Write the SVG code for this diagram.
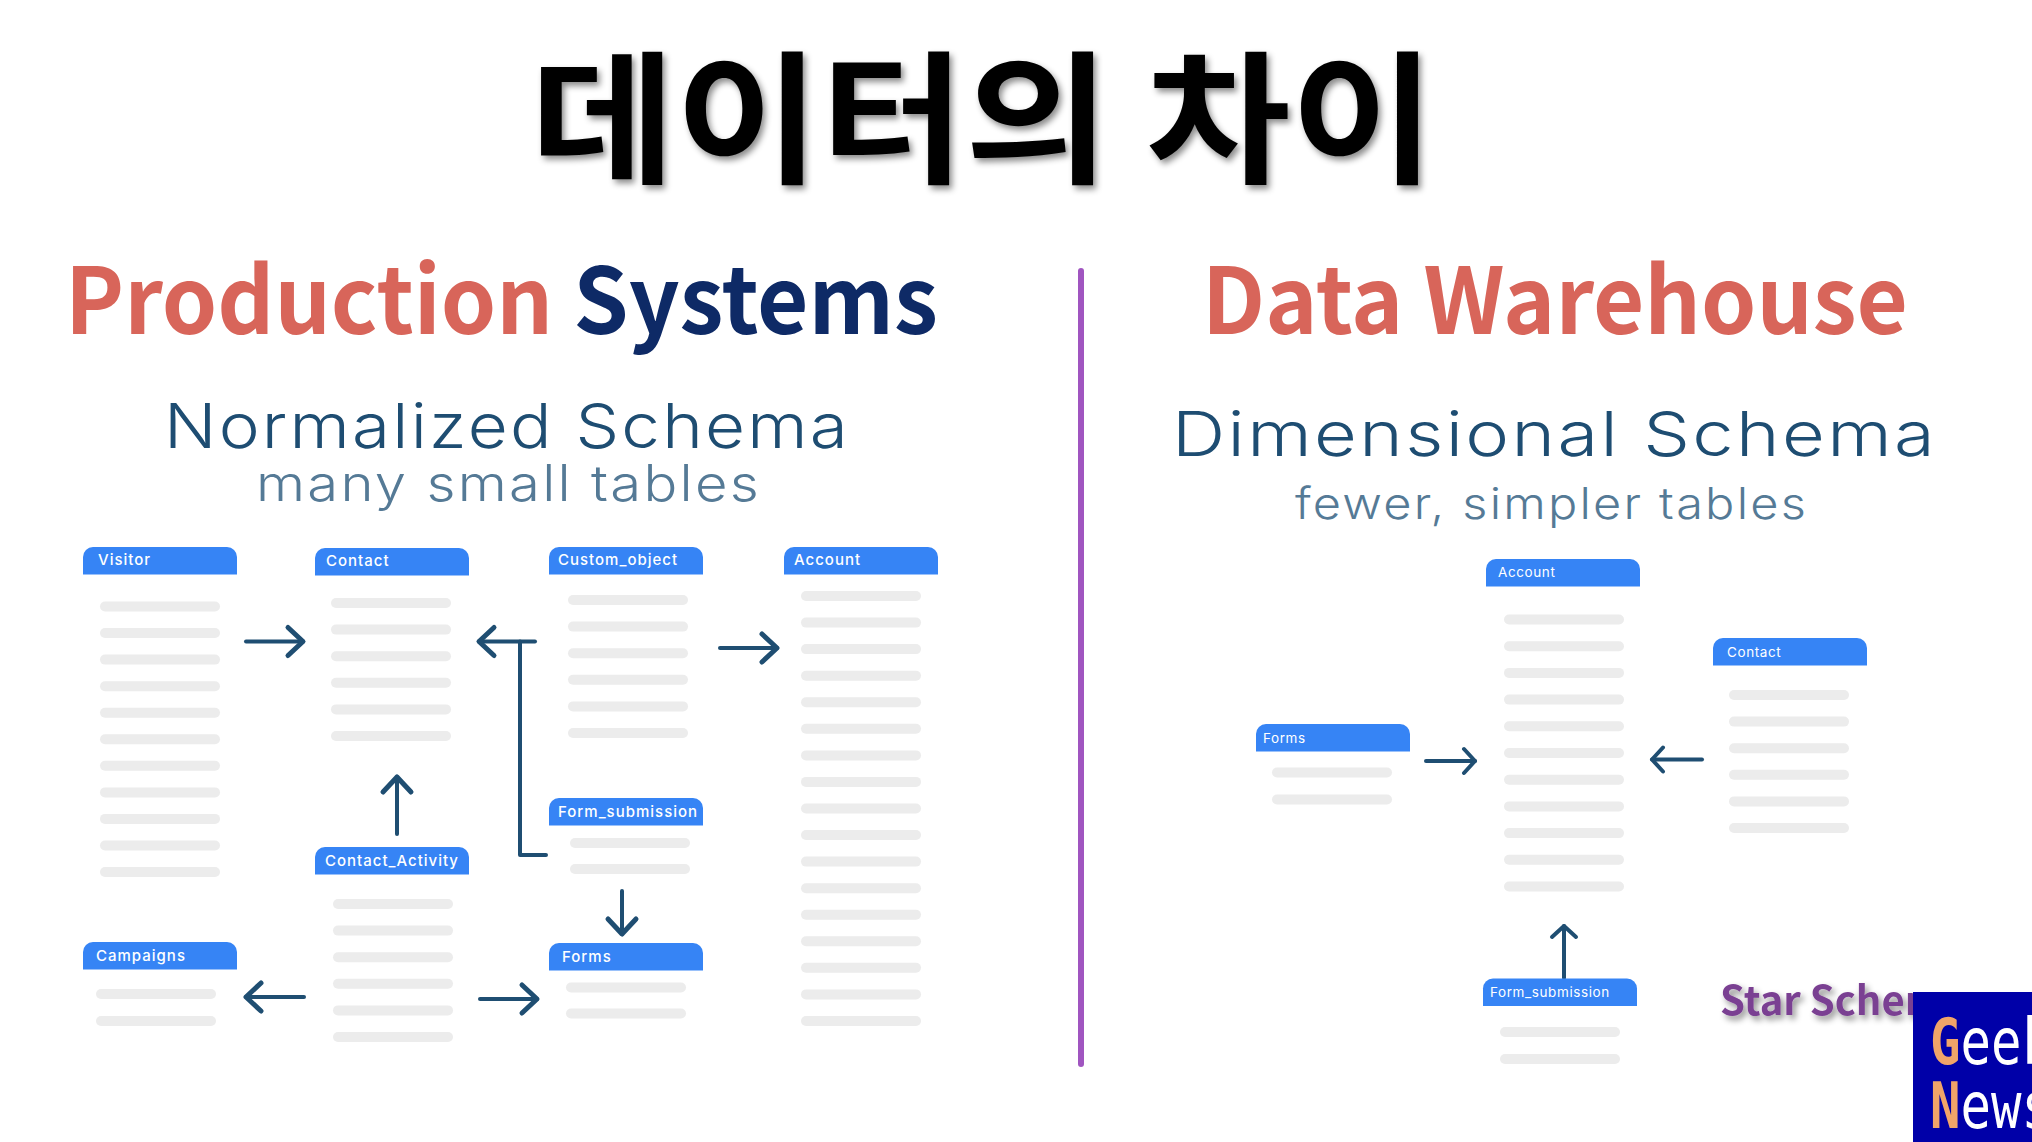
<svg xmlns="http://www.w3.org/2000/svg" width="2032" height="1142" viewBox="0 0 2032 1142">
<style>
text{font-family:"Noto Sans CJK KR","Noto Sans",sans-serif}
.title{font-size:143px;font-weight:700;fill:#000}
.head{font-size:92px;font-weight:700}
.red{fill:#d8655a}.navy{fill:#0e2a66}
.sub{font-family:Inter,Lato,sans-serif;font-weight:300;fill:#1e4d72;letter-spacing:2px}
.sub2{font-family:Inter,Lato,sans-serif;font-weight:300;fill:#557a96;letter-spacing:2px}
.lbl{font-family:Inter,Lato,sans-serif;font-size:15px;font-weight:500;letter-spacing:1px;fill:#fff}
.lbl2{font-family:Inter,Lato,sans-serif;font-size:13.5px;font-weight:400;letter-spacing:.6px;fill:#fff}
.hd{fill:#3684f5}
.b{fill:#ececec}
.a{fill:none;stroke:#1f4e72;stroke-width:4;stroke-linecap:round;stroke-linejoin:round}
.g{font-family:"DejaVu Sans Mono",monospace;font-size:64px}
</style>
<defs>
<filter id="sh" x="-5%" y="-10%" width="110%" height="125%"><feDropShadow dx="3" dy="4" stdDeviation="3" flood-color="#000" flood-opacity=".45"/></filter>
<clipPath id="starclip"><rect x="1700" y="960" width="213" height="90"/></clipPath>
<marker id="ah" markerUnits="userSpaceOnUse" markerWidth="40" markerHeight="40" refX="20" refY="20" orient="auto"><path d="M5 6 L20 20 L5 34" fill="none" stroke="#1f4e72" stroke-width="5" stroke-linecap="round" stroke-linejoin="round"/></marker>
<marker id="as" markerUnits="userSpaceOnUse" markerWidth="32" markerHeight="32" refX="16" refY="16" orient="auto"><path d="M5 4 L16 16 L5 28" fill="none" stroke="#1f4e72" stroke-width="4" stroke-linecap="round" stroke-linejoin="round"/></marker>
<path id="hdr" class="hd" d="M0 27.500V10a10 10 0 0 1 10-10H144a10 10 0 0 1 10 10V27.500Z"/>
<rect id="bar" class="b" width="120" height="10" rx="5"/>
</defs>
<rect width="2032" height="1142" fill="#fff"/>
<text class="title" x="983" y="172" text-anchor="middle" filter="url(#sh)" textLength="905" lengthAdjust="spacingAndGlyphs">데이터의 차이</text>
<text class="head" x="65" y="334" textLength="873" lengthAdjust="spacingAndGlyphs"><tspan class="red">Production</tspan> <tspan class="navy">Systems</tspan></text>
<text class="head red" x="1202" y="334" textLength="706" lengthAdjust="spacingAndGlyphs">Data Warehouse</text>
<text class="sub" x="164" y="448" font-size="62" textLength="686" lengthAdjust="spacingAndGlyphs">Normalized Schema</text>
<text class="sub2" x="256" y="501" font-size="50" textLength="505" lengthAdjust="spacingAndGlyphs">many small tables</text>
<text class="sub" x="1172" y="456" font-size="62" textLength="765" lengthAdjust="spacingAndGlyphs">Dimensional Schema</text>
<text class="sub2" x="1295" y="519" font-size="44" textLength="513" lengthAdjust="spacingAndGlyphs">fewer, simpler tables</text>
<rect x="1078" y="268" width="6" height="799" rx="3" fill="#a055c0"/>

<g id="connectors">
<path class="a" marker-end="url(#ah)" d="M246 641.500H303"/>
<path class="a" marker-end="url(#ah)" d="M535 641.500H479"/>
<path class="a" d="M520 641.500V855H546"/>
<path class="a" marker-end="url(#ah)" d="M397 834V777"/>
<path class="a" marker-end="url(#ah)" d="M720 648H777"/>
<path class="a" marker-end="url(#ah)" d="M622 891V934"/>
<path class="a" marker-end="url(#ah)" d="M304 997H246"/>
<path class="a" marker-end="url(#ah)" d="M480 999H537"/>
<path class="a" marker-end="url(#as)" d="M1426 761H1475"/>
<path class="a" marker-end="url(#as)" d="M1702 759.500H1652"/>
<path class="a" marker-end="url(#as)" d="M1564 978V926"/>
</g>

<g id="visitor"><use href="#hdr" x="83" y="547"/><text class="lbl" x="98" y="565">Visitor</text>
<use href="#bar" x="100" y="601.500"/><use href="#bar" x="100" y="628"/><use href="#bar" x="100" y="654.600"/><use href="#bar" x="100" y="681.200"/><use href="#bar" x="100" y="707.700"/><use href="#bar" x="100" y="734.300"/><use href="#bar" x="100" y="760.800"/><use href="#bar" x="100" y="787.400"/><use href="#bar" x="100" y="813.900"/><use href="#bar" x="100" y="840.500"/><use href="#bar" x="100" y="867"/></g>
<g id="contact"><use href="#hdr" x="315" y="548"/><text class="lbl" x="326" y="566">Contact</text>
<use href="#bar" x="331" y="598"/><use href="#bar" x="331" y="624.600"/><use href="#bar" x="331" y="651.200"/><use href="#bar" x="331" y="677.800"/><use href="#bar" x="331" y="704.400"/><use href="#bar" x="331" y="731"/></g>
<g id="custom_object"><use href="#hdr" x="549" y="547"/><text class="lbl" x="558" y="565">Custom_object</text>
<use href="#bar" x="568" y="595"/><use href="#bar" x="568" y="621.600"/><use href="#bar" x="568" y="648.200"/><use href="#bar" x="568" y="674.800"/><use href="#bar" x="568" y="701.400"/><use href="#bar" x="568" y="728"/></g>
<g id="account"><use href="#hdr" x="784" y="547"/><text class="lbl" x="794" y="565">Account</text>
<use href="#bar" x="801" y="591"/><use href="#bar" x="801" y="617.600"/><use href="#bar" x="801" y="644.100"/><use href="#bar" x="801" y="670.700"/><use href="#bar" x="801" y="697.200"/><use href="#bar" x="801" y="723.800"/><use href="#bar" x="801" y="750.400"/><use href="#bar" x="801" y="776.900"/><use href="#bar" x="801" y="803.500"/><use href="#bar" x="801" y="830"/><use href="#bar" x="801" y="856.600"/><use href="#bar" x="801" y="883.200"/><use href="#bar" x="801" y="909.700"/><use href="#bar" x="801" y="936.300"/><use href="#bar" x="801" y="962.800"/><use href="#bar" x="801" y="989.400"/><use href="#bar" x="801" y="1016"/></g>
<g id="form_submission"><use href="#hdr" x="549" y="798"/><text class="lbl" x="558" y="817">Form_submission</text>
<use href="#bar" x="570" y="838"/><use href="#bar" x="570" y="864"/></g>
<g id="forms"><use href="#hdr" x="549" y="943"/><text class="lbl" x="562" y="962">Forms</text>
<use href="#bar" x="566" y="982.500"/><use href="#bar" x="566" y="1008.500"/></g>
<g id="contact_activity"><use href="#hdr" x="315" y="847"/><text class="lbl" x="325" y="866">Contact_Activity</text>
<use href="#bar" x="333" y="899"/><use href="#bar" x="333" y="925.600"/><use href="#bar" x="333" y="952.200"/><use href="#bar" x="333" y="978.800"/><use href="#bar" x="333" y="1005.400"/><use href="#bar" x="333" y="1032"/></g>
<g id="campaigns"><use href="#hdr" x="83" y="942"/><text class="lbl" x="96" y="961">Campaigns</text>
<use href="#bar" x="96" y="989"/><use href="#bar" x="96" y="1016"/></g>

<g id="dw_account"><use href="#hdr" x="1486" y="559"/><text class="lbl2" x="1498" y="577">Account</text>
<use href="#bar" x="1504" y="614.500"/><use href="#bar" x="1504" y="641.200"/><use href="#bar" x="1504" y="667.900"/><use href="#bar" x="1504" y="694.600"/><use href="#bar" x="1504" y="721.300"/><use href="#bar" x="1504" y="748"/><use href="#bar" x="1504" y="774.700"/><use href="#bar" x="1504" y="801.400"/><use href="#bar" x="1504" y="828.100"/><use href="#bar" x="1504" y="854.800"/><use href="#bar" x="1504" y="881.500"/></g>
<g id="dw_contact"><use href="#hdr" x="1713" y="638"/><text class="lbl2" x="1727" y="657">Contact</text>
<use href="#bar" x="1729" y="690"/><use href="#bar" x="1729" y="716.600"/><use href="#bar" x="1729" y="743.200"/><use href="#bar" x="1729" y="769.800"/><use href="#bar" x="1729" y="796.400"/><use href="#bar" x="1729" y="823"/></g>
<g id="dw_forms"><use href="#hdr" x="1256" y="724"/><text class="lbl2" x="1263" y="743">Forms</text>
<use href="#bar" x="1272" y="767.500"/><use href="#bar" x="1272" y="794.500"/></g>
<g id="dw_form_submission"><use href="#hdr" x="1483" y="978.500"/><text class="lbl2" x="1490" y="997">Form_submission</text>
<use href="#bar" x="1500" y="1027"/><use href="#bar" x="1500" y="1054"/></g>

<g clip-path="url(#starclip)"><text x="1720" y="1015" font-size="40" font-weight="700" fill="#7a3f92" filter="url(#sh)">Star Schema</text></g>
<g id="badge">
<rect x="1913" y="992" width="119" height="150" fill="#0000a8"/>
<text class="g" x="1930" y="1064" fill="#fff" textLength="122" lengthAdjust="spacingAndGlyphs"><tspan fill="#f0a469" font-weight="700">G</tspan>eek</text>
<text class="g" x="1930" y="1128" fill="#fff" textLength="122" lengthAdjust="spacingAndGlyphs"><tspan fill="#f0a469" font-weight="700">N</tspan>ews</text>
</g>
</svg>
